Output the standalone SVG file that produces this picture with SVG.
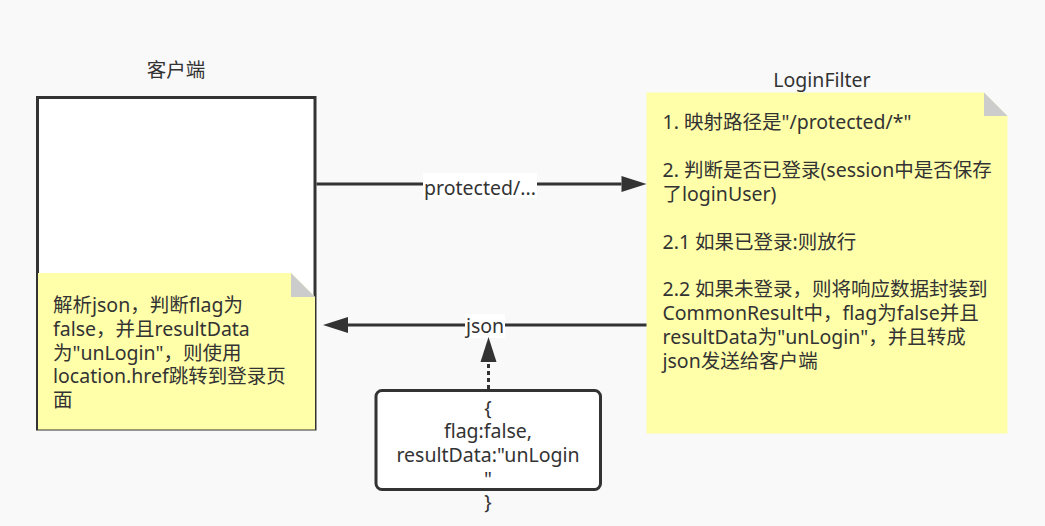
<svg xmlns="http://www.w3.org/2000/svg" width="1045" height="526" viewBox="0 0 1045 526">
<style>
text{font-family:"Noto Sans","Noto Sans CJK SC",sans-serif;font-size:19.5px;fill:#333333}
.mid{text-anchor:middle}
.box{fill:#ffffff;stroke:#333333;stroke-width:3}
.note{fill:#ffffaa;stroke:none}
.fold{fill:#cccccc;stroke:none}
.edge{fill:none;stroke:#333333;stroke-width:3}
.lbl{fill:#ffffff}
</style>
<defs>
<marker id="arr" markerUnits="userSpaceOnUse" markerWidth="26" markerHeight="18" refX="0" refY="8" orient="auto" overflow="visible">
<path d="M0,0 L25,8 L0,16 Z" fill="#333333"/>
</marker>
</defs>
<rect x="0" y="0" width="1045" height="526" fill="#f9f9f9"/>

<g id="client">
<text class="mid" x="176" y="77">客户端</text>
<rect class="box" x="37.5" y="97.5" width="277.5" height="331.5"/>
</g>

<g id="client-note">
<path class="note" d="M38,273 H291 L315,297 V429.5 H38 Z"/>
<path class="fold" d="M291,273 V297 H315 Z"/>
<text x="53" y="312.4"><tspan x="53" y="312.4">解析json，判断flag为</tspan><tspan x="53" y="336">false，并且resultData</tspan><tspan x="53" y="359.7">为"unLogin"，则使用</tspan><tspan x="53" y="383.4">location.href跳转到登录页</tspan><tspan x="53" y="407">面</tspan></text>
</g>

<g id="loginfilter">
<text class="mid" x="822" y="87">LoginFilter</text>
<path class="note" d="M646.5,92.5 H984 L1007.5,116 V433.5 H646.5 Z"/>
<path class="fold" d="M984,92.5 V116 H1007.5 Z"/>
<text x="662.5" y="129"><tspan x="662.5" y="129">1. 映射路径是"/protected/*"</tspan><tspan x="662.5" y="176.8">2. 判断是否已登录(session中是否保存</tspan><tspan x="662.5" y="200.7">了loginUser)</tspan><tspan x="662.5" y="248.5">2.1 如果已登录:则放行</tspan><tspan x="662.5" y="296.3">2.2 如果未登录，则将响应数据封装到</tspan><tspan x="662.5" y="320.2">CommonResult中，flag为false并且</tspan><tspan x="662.5" y="344.1">resultData为"unLogin"，并且转成</tspan><tspan x="662.5" y="368">json发送给客户端</tspan></text>
</g>

<g id="json-box">
<rect class="box" x="376" y="390.5" width="224.5" height="99" rx="6" ry="6"/>
<text class="mid" x="488" y="414.5"><tspan x="488" y="414.5">{</tspan><tspan x="488" y="438.2">flag:false,</tspan><tspan x="488" y="461.9">resultData:"unLogin</tspan><tspan x="488" y="485.6">"</tspan><tspan x="488" y="509.3">}</tspan></text>
</g>

<g id="connectors">
<path class="edge" d="M316.5,184 H621.5" marker-end="url(#arr)"/>
<rect class="lbl" x="423" y="173" width="114" height="25"/>
<text class="mid" x="480" y="195">protected/...</text>
<path class="edge" d="M646.5,325 H348" marker-end="url(#arr)"/>
<rect class="lbl" x="465" y="314" width="40" height="24"/>
<text class="mid" x="485" y="333">json</text>
<path class="edge" d="M488.5,389 V362" stroke-dasharray="4 3" marker-end="url(#arr)"/>
</g>
</svg>
